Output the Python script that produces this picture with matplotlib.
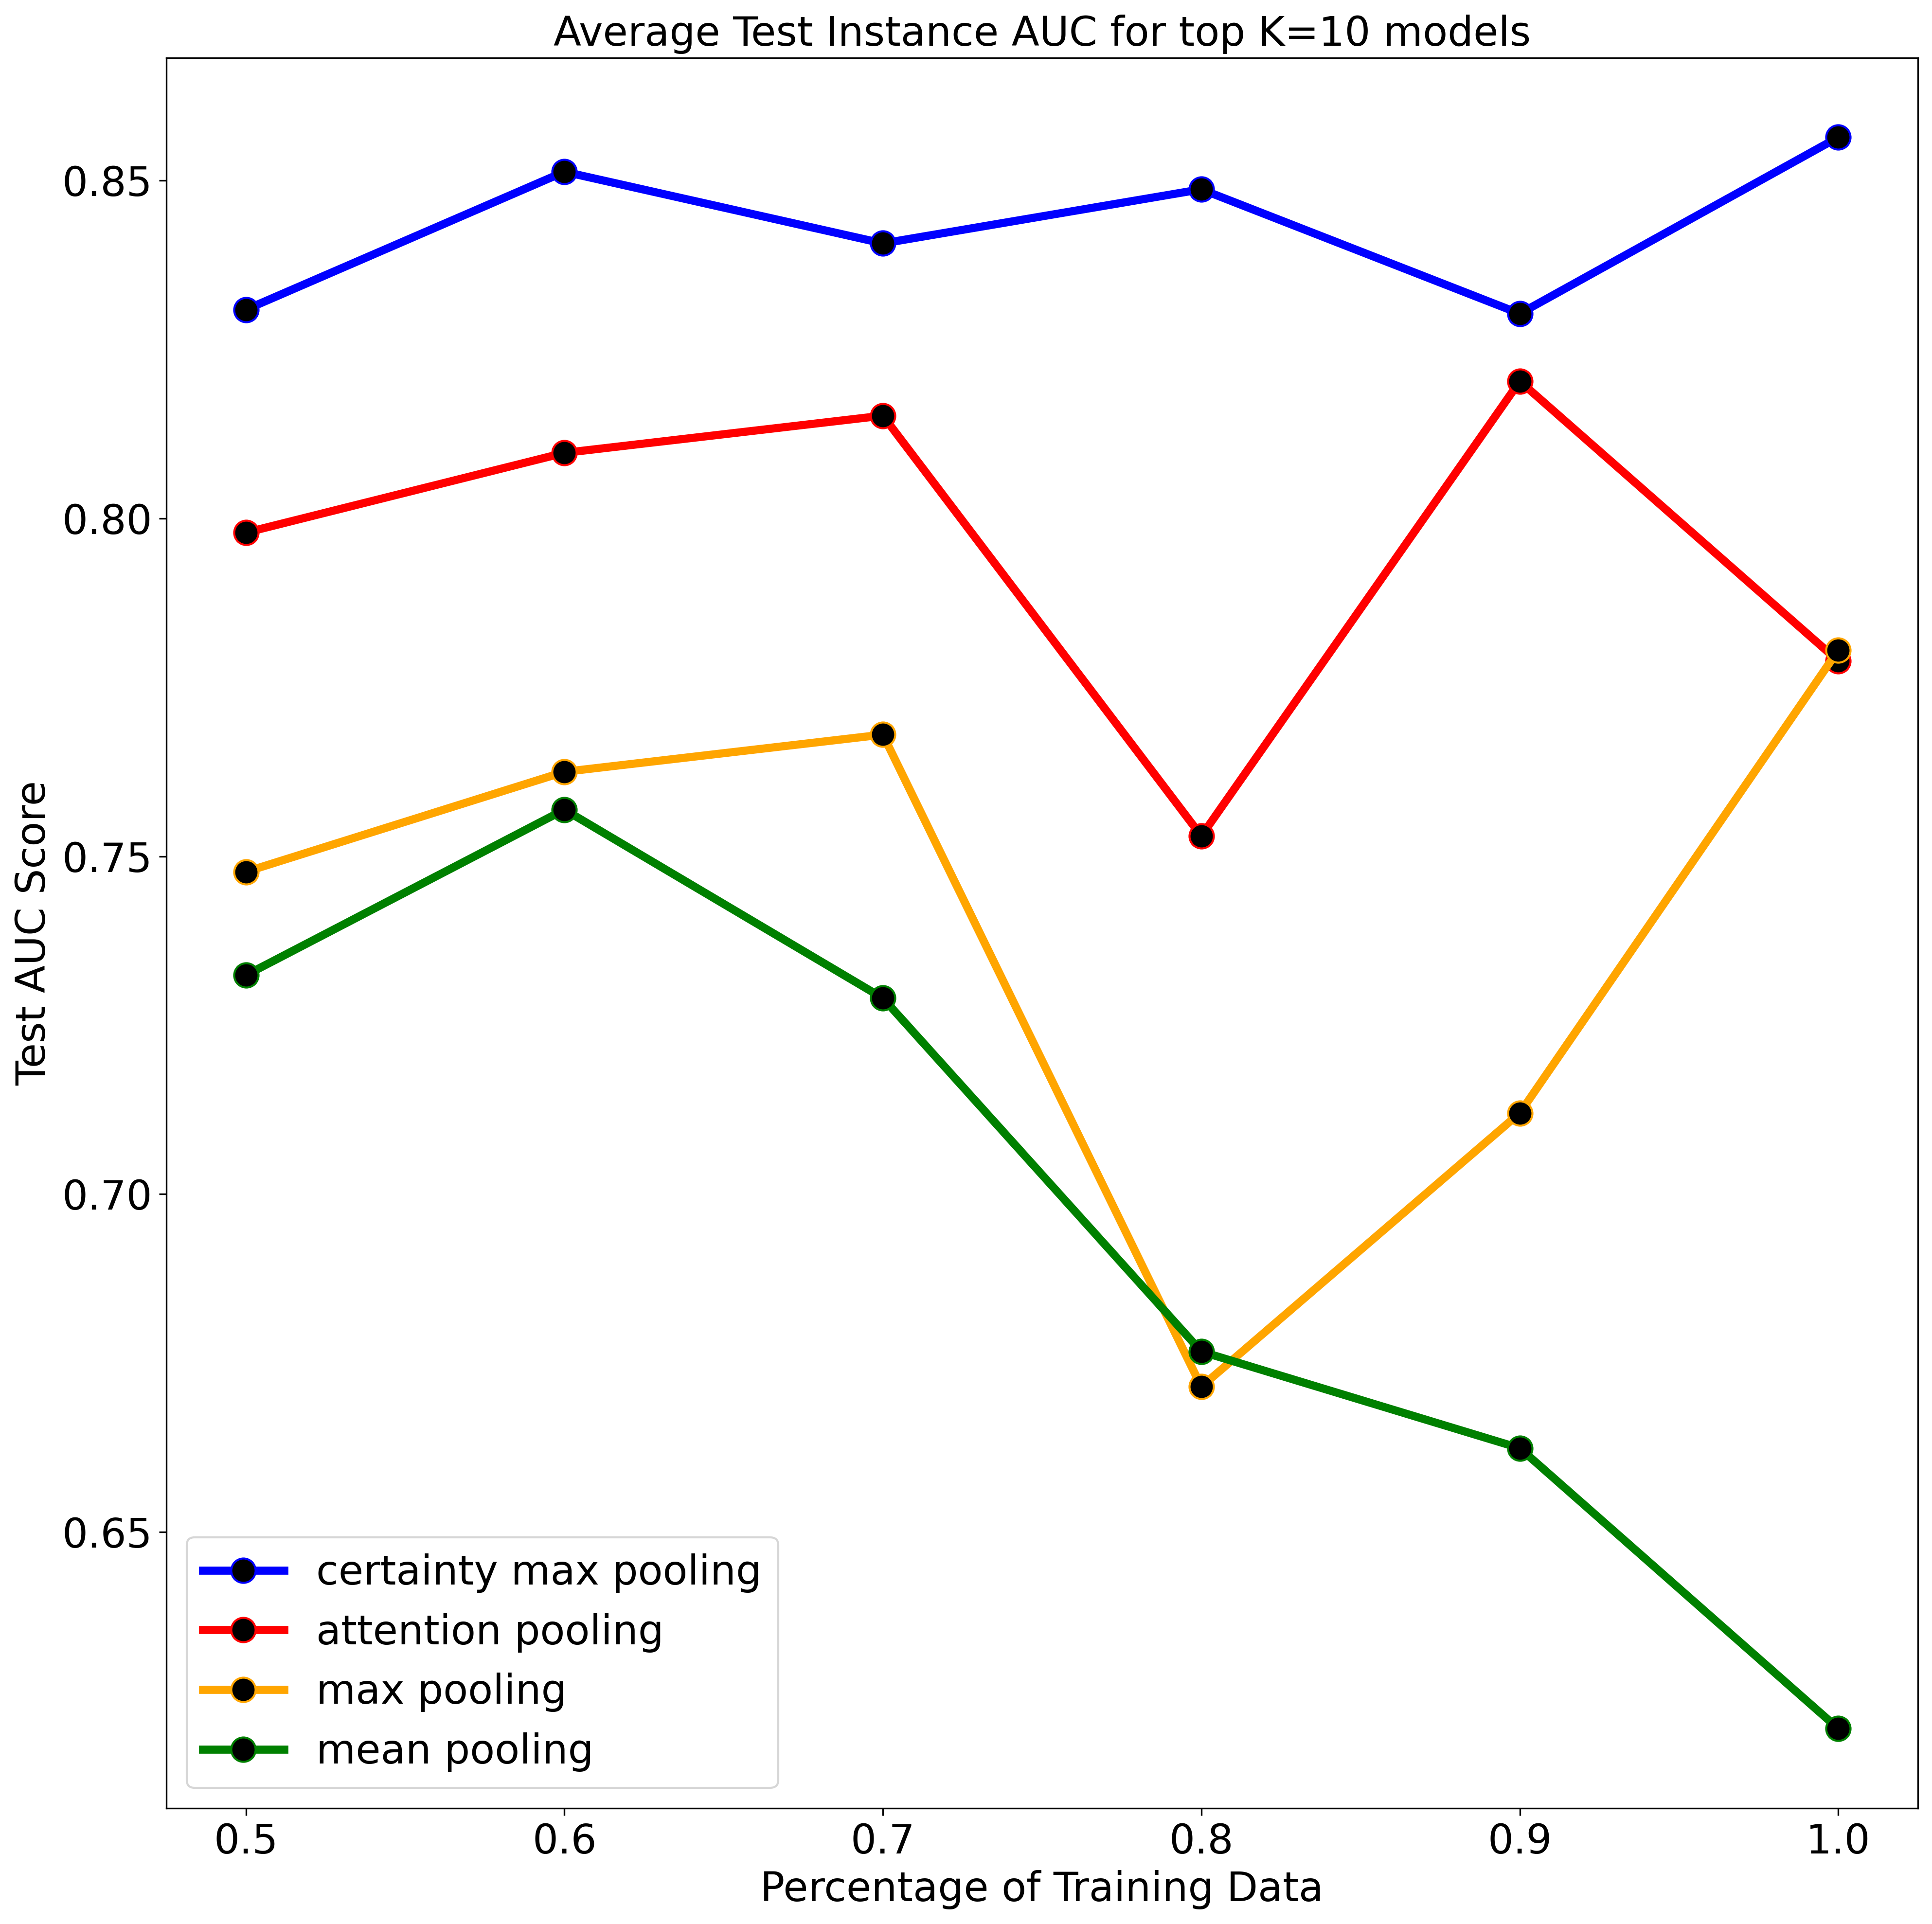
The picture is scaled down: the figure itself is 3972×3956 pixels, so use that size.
import matplotlib
matplotlib.use("Agg")
import matplotlib.pyplot as plt

train_frac = [0.5, 0.6, 0.7, 0.8, 0.9, 1.0]

certainty_max = [0.8309, 0.8513, 0.8407, 0.8487, 0.8303, 0.8564]
attention = [0.7979, 0.8097, 0.8152, 0.7530, 0.8203, 0.7789]
max_pool = [0.7477, 0.7625, 0.7680, 0.6715, 0.7120, 0.7805]
mean_pool = [0.7324, 0.7569, 0.7290, 0.6767, 0.6624, 0.6209]

series = [
    ("certainty max pooling", certainty_max, "blue"),
    ("attention pooling", attention, "red"),
    ("max pooling", max_pool, "orange"),
    ("mean pooling", mean_pool, "green"),
]

fig = plt.figure(figsize=(3972 / 300, 3956 / 300), dpi=300)
ax = fig.add_axes([0.0861, 0.0602, 0.9927 - 0.0861, 0.970 - 0.0602])

for label, vals, color in series:
    ax.plot(train_frac, vals, color=color, linewidth=4, marker="o",
            markersize=12, markerfacecolor="black", markeredgecolor=color,
            markeredgewidth=1.0, label=label)

ax.set_title("Average Test Instance AUC for top K=10 models", fontsize=20)
ax.set_xlabel("Percentage of Training Data", fontsize=20)
ax.set_ylabel("Test AUC Score", fontsize=20)
ax.tick_params(labelsize=20)
ax.set_yticks([0.65, 0.70, 0.75, 0.80, 0.85])
ax.set_yticklabels(["0.65", "0.70", "0.75", "0.80", "0.85"])
ax.legend(loc="lower left", fontsize=20)

fig.savefig("out.png", dpi=300)
